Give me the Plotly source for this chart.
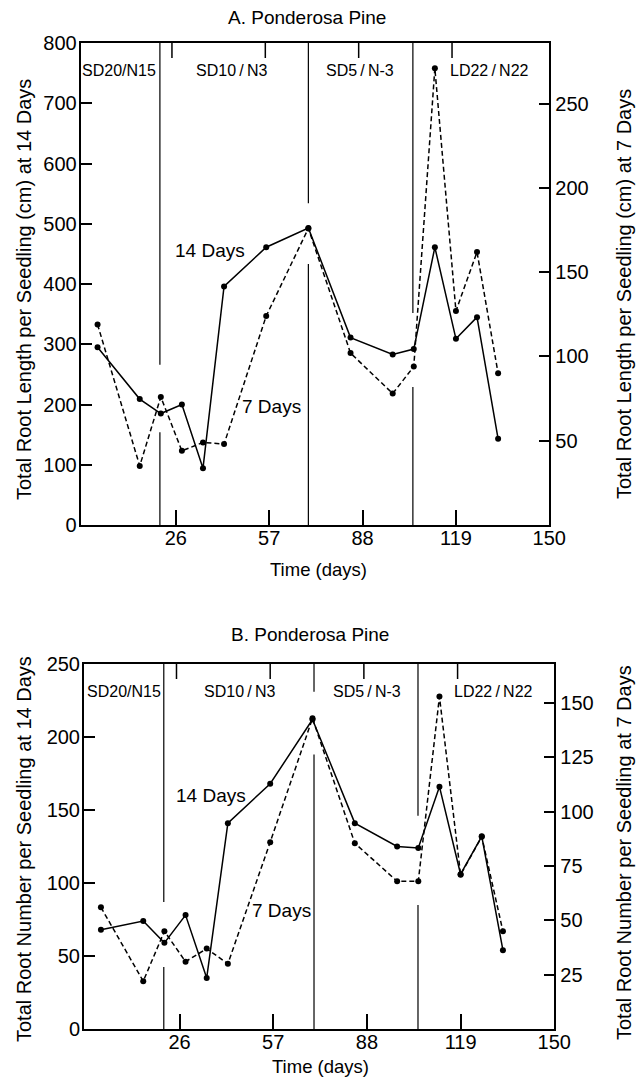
import plotly.graph_objects as go

# ---------------- data ----------------
days = [0, 14, 21, 28, 35, 42, 56, 70, 84, 98, 105, 112, 119, 126, 133]

# Panel A: total root length (cm)
len_14d = [295, 209, 185, 200, 94, 396, 461, 493, 311, 283, 292, 461, 309, 345, 143]
len_7d = [119, 35, 76, 44, 49, 48, 124, 176, 102, 78, 94, 271, 127, 162, 90]

# Panel B: total root number
num_14d = [68, 74, 59, 78, 35, 141, 168, 212, 141, 125, 124, 166, 106, 132, 54]
num_7d = [56, 22, 45, 31, 37, 30, 86, 143, 85.5, 68, 68, 153, 71, 88.5, 45]

x_ticks = [26, 57, 88, 119, 150]
yA_left_ticks = [0, 100, 200, 300, 400, 500, 600, 700, 800]
yA_right_ticks = [50, 100, 150, 200, 250]
yB_left_ticks = [0, 50, 100, 150, 200, 250]
yB_right_ticks = [25, 50, 75, 100, 125, 150]

periods = ["SD20/N15", "SD10\u2009/\u2009N3", "SD5\u2009/\u2009N-3", "LD22\u2009/\u2009N22"]
period_x_A = [7.1, 44.6, 87.3, 130.1]
period_x_B = [7.5, 45.8, 88.1, 129.9]

# divider lines (day, [(y_top, y_bottom) segments in left-axis units])
dividers_A = [(20.7, [(800, 266), (154, 0)]),
              (70.0, [(800, 534), (433, 0)]),
              (104.7, [(800, 352), (229, 0)])]
dividers_B = [(20.8, [(250, 87), (42.5, 0)]),
              (70.5, [(250, 231), (188, 0)]),
              (104.9, [(250, 146), (85, 0)])]

FONT = "Liberation Sans, Arial, sans-serif"
BLACK = "black"
TICK_FS = 20

fig = go.Figure()

def add_series(x, y, xa, ya, dash):
    fig.add_trace(go.Scatter(
        x=x, y=y, xaxis=xa, yaxis=ya, mode="lines+markers",
        line=dict(color=BLACK, width=1.5, dash=dash),
        marker=dict(color=BLACK, size=6),
        showlegend=False, hoverinfo="skip"))

add_series(days, len_14d, "x", "y", "solid")
add_series(days, len_7d, "x", "y2", "5px,3px")
add_series(days, num_14d, "x2", "y3", "solid")
add_series(days, num_7d, "x2", "y4", "5px,3px")

W, H = 640, 1079
def px_x(p):
    return p / W
def px_y(p):
    return 1 - p / H

domA_x = [px_x(80.7), px_x(549.3)]
domA_y = [px_y(525), px_y(43)]
domB_x = [px_x(84), px_x(554.3)]
domB_y = [px_y(1029), px_y(664)]

xr = [-5.6, 150]

def xaxis(dom, anchor):
    return dict(domain=dom, anchor=anchor, range=xr, tickvals=x_ticks,
                ticks="inside", ticklen=15, tickwidth=1.5, tickcolor=BLACK,
                showline=True, linewidth=2, linecolor=BLACK, mirror=True,
                showgrid=False, zeroline=False, automargin=False,
                ticklabelstandoff=-6,
                tickfont=dict(family=FONT, size=TICK_FS, color=BLACK))

def yaxis(dom, anchor, rng, tv, side="left", overlay=None, ticklen=11):
    d = dict(domain=dom, anchor=anchor, range=rng, tickvals=tv,
             ticks="inside", ticklen=ticklen, tickwidth=1.5, tickcolor=BLACK,
             showline=True, linewidth=2, linecolor=BLACK,
             showgrid=False, zeroline=False, side=side, automargin=False,
             tickfont=dict(family=FONT, size=TICK_FS, color=BLACK))
    if overlay:
        d["overlaying"] = overlay
    else:
        d["mirror"] = True
        d["ticklabelstandoff"] = -2
    return d

fig.update_layout(
    width=W, height=H, autosize=False,
    margin=dict(l=0, r=0, t=0, b=0, pad=0, autoexpand=False),
    paper_bgcolor="white", plot_bgcolor="white",
    xaxis=xaxis(domA_x, "y"),
    yaxis=yaxis(domA_y, "x", [0, 800], yA_left_ticks),
    yaxis2=yaxis(domA_y, "x", [0, 286], yA_right_ticks, side="right", overlay="y", ticklen=10),
    xaxis2=xaxis(domB_x, "y3"),
    yaxis3=yaxis(domB_y, "x2", [0, 250], yB_left_ticks),
    yaxis4=yaxis(domB_y, "x2", [0, 168], yB_right_ticks, side="right", overlay="y3", ticklen=10),
)

shapes = []
# divider lines
for xr_, yr_, divs in [("x", "y", dividers_A), ("x2", "y3", dividers_B)]:
    for d, segs in divs:
        for y0, y1 in segs:
            shapes.append(dict(type="line", xref=xr_, yref=yr_, x0=d, x1=d, y0=y0, y1=y1,
                               line=dict(color=BLACK, width=1.2)))
# top-axis ticks (slightly offset as in the original)
for xr_, yr_, off, ln in [("x", "y domain", 1.3, 15 / 482), ("x2", "y3 domain", 1.0, 15 / 365)]:
    for t in x_ticks[:-1]:
        shapes.append(dict(type="line", xref=xr_, yref=yr_, x0=t - off, x1=t - off, y0=1, y1=1 - ln,
                           line=dict(color=BLACK, width=1.5)))
fig.update_layout(shapes=shapes)

ann = []
def text(x, y, s, size, xref="paper", yref="paper", angle=0, yanchor="middle"):
    ann.append(dict(x=x, y=y, xref=xref, yref=yref, text=s, showarrow=False,
                    textangle=angle, xanchor="center", yanchor=yanchor,
                    font=dict(family=FONT, size=size, color=BLACK)))

# titles
text(px_x(307), px_y(17), "A. Ponderosa Pine", 19)
text(px_x(310), px_y(634), "B. Ponderosa Pine", 19)
# x titles
text(px_x(318), px_y(569), "Time (days)", 18.5)
text(px_x(320), px_y(1066), "Time (days)", 18.5)
# y titles
text(px_x(24), px_y(290), "Total Root Length per Seedling (cm) at 14 Days", 20, angle=-90)
text(px_x(624), px_y(294), "Total Root Length per Seedling (cm) at 7 Days", 20, angle=-90)
text(px_x(24), px_y(849), "Total Root Number per Seedling at 14 Days", 20, angle=-90)
text(px_x(624), px_y(853), "Total Root Number per Seedling at 7 Days", 20, angle=-90)
# period labels
for lbl, xa in zip(periods, period_x_A):
    text(xa, px_y(70), lbl, 16, xref="x")
for lbl, xb in zip(periods, period_x_B):
    text(xb, px_y(691), lbl, 16, xref="x2")
# series labels
text(37.3, 455, "14 Days", 19, xref="x", yref="y")
text(57.8, 197, "7 Days", 19, xref="x", yref="y")
text(36.3, 160, "14 Days", 19, xref="x2", yref="y3")
text(59.7, 81.5, "7 Days", 19, xref="x2", yref="y3")
fig.update_layout(annotations=ann)

fig.write_html("out.html")
